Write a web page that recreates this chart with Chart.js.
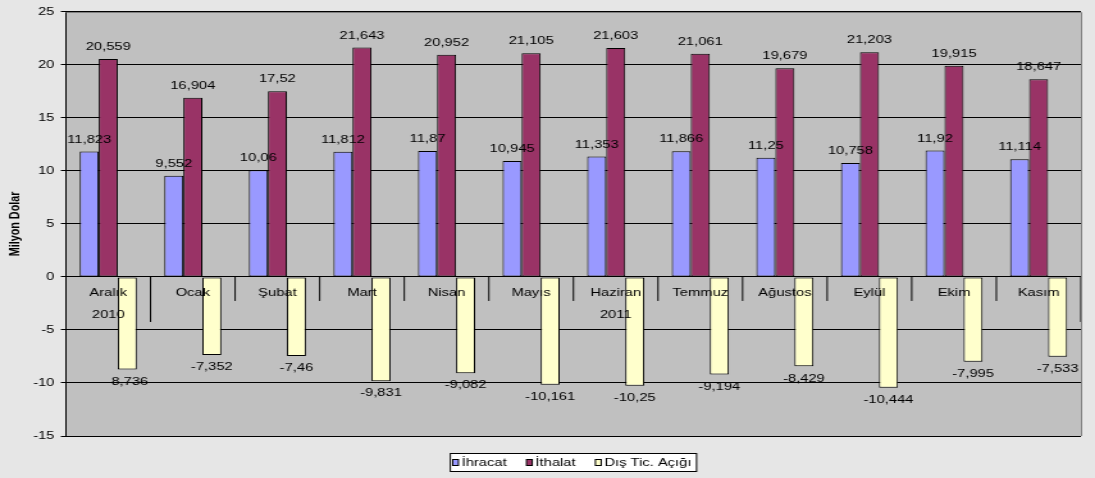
<!DOCTYPE html>
<html>
<head>
<meta charset="utf-8">
<title>Dış Ticaret</title>
<style>
  html, body { margin: 0; padding: 0; background: #e6e6e6; overflow: hidden; }
  /* the chart is laid out narrow and widened horizontally, giving the wide-type look */
  #wrap { width: 855px; height: 478px; transform: scaleX(1.2807); transform-origin: 0 0; }
  canvas { display: block; }
</style>
<script src="https://cdn.jsdelivr.net/npm/chart.js@4/dist/chart.umd.min.js"></script>
</head>
<body>
<div id="wrap"><canvas id="c" width="855" height="478"></canvas></div>
<script>
// Aylar ve yıl grupları
const months = ['Aralık', 'Ocak', 'Şubat', 'Mart', 'Nisan', 'Mayıs', 'Haziran', 'Temmuz', 'Ağustos', 'Eylül', 'Ekim', 'Kasım'];
const years = ['2010', '2011'];
const yearSpans = [1, 11];

// Seriler (milyar değil, grafikteki birimle: Milyon Dolar)
const ihracat = [11.823, 9.552, 10.06, 11.812, 11.87, 10.945, 11.353, 11.866, 11.25, 10.758, 11.92, 11.114];
const ithalat = [20.559, 16.904, 17.52, 21.643, 20.952, 21.105, 21.603, 21.061, 19.679, 21.203, 19.915, 18.647];
const disTicAcigi = [-8.736, -7.352, -7.46, -9.831, -9.082, -10.161, -10.25, -9.194, -8.429, -10.444, -7.995, -7.533];

const seriesNames = ['İhracat', 'İthalat', 'Dış Tic. Açığı'];
const yTicks = [-15, -10, -5, 0, 5, 10, 15, 20, 25];

const FONT = '"Liberation Sans", Arial, sans-serif';
const FS = 11.5;
Chart.defaults.font.family = FONT;
Chart.defaults.font.size = FS;
Chart.defaults.color = '#000';

const fmt = v => String(v).replace('.', ',');

const backdrop = {
  id: 'backdrop',
  beforeDraw(chart) {
    const {ctx, chartArea: a} = chart;
    ctx.save();
    ctx.fillStyle = '#e6e6e6';
    ctx.fillRect(0, 0, chart.width, chart.height);
    ctx.fillStyle = '#c0c0c0';
    ctx.fillRect(a.left, a.top, a.right - a.left, a.bottom - a.top);
    ctx.restore();
  }
};

const annotations = {
  id: 'annotations',
  afterDatasetsDraw(chart) {
    const {ctx, chartArea: a} = chart;
    const xs = chart.scales.x, ys = chart.scales.y;
    const y0 = ys.getPixelForValue(0);
    const half = (xs.getPixelForValue(1) - xs.getPixelForValue(0)) / 2;
    ctx.save();
    ctx.fillStyle = '#000';
    ctx.textAlign = 'center';
    ctx.textBaseline = 'middle';
    ctx.font = `${FS}px ${FONT}`;

    // month separators below the zero line; group ends run longer
    const ends = [];
    let acc = 0;
    yearSpans.forEach(n => { acc += n; ends.push(acc - 1); });
    ctx.strokeStyle = '#000';
    ctx.lineWidth = 1;
    months.forEach((m, i) => {
      const bx = xs.getPixelForValue(i) + half;
      const len = ends.includes(i) ? 45 : 24;
      ctx.beginPath();
      ctx.moveTo(bx, y0);
      ctx.lineTo(bx, y0 + len);
      ctx.stroke();
    });

    // month names
    months.forEach((m, i) => {
      ctx.fillText(m, xs.getPixelForValue(i), y0 + 15.5);
    });

    // year names centred on their span
    let start = 0;
    years.forEach((yr, k) => {
      const last = start + yearSpans[k] - 1;
      const l = xs.getPixelForValue(start) - half;
      const r = xs.getPixelForValue(last) + half;
      ctx.fillText(yr, (l + r) / 2, y0 + 38);
      start = last + 1;
    });

    // value labels
    chart.data.datasets.forEach((ds, di) => {
      const meta = chart.getDatasetMeta(di);
      meta.data.forEach((bar, j) => {
        const v = ds.data[j];
        const ty = v >= 0 ? bar.y - 12 : bar.y + 12;
        ctx.fillText(fmt(v), bar.x, ty);
      });
    });
    ctx.restore();
  },
  afterDraw(chart) {
    const {ctx, chartArea: a} = chart;
    ctx.save();
    // plot frame (top and right)
    ctx.strokeStyle = '#808080';
    ctx.lineWidth = 1;
    ctx.beginPath();
    ctx.moveTo(a.left, Math.round(a.top) + 0.5);
    ctx.lineTo(a.right + 0.5, Math.round(a.top) + 0.5);
    ctx.lineTo(a.right + 0.5, a.bottom);
    ctx.stroke();

    // legend
    ctx.font = `${FS}px ${FONT}`;
    ctx.textBaseline = 'middle';
    ctx.textAlign = 'left';
    const boxW = 4.5, boxH = 6, gap = 2.5, spacing = 15.5, padL = 1.8, padR = 4;
    const widths = chart.data.datasets.map(ds => ctx.measureText(ds.label).width);
    let content = 0;
    widths.forEach((w, i) => { content += boxW + gap + w + (i < widths.length - 1 ? spacing : 0); });
    const frameW = padL + content + padR;
    const cx = (a.left + a.right) / 2;
    const fx = cx - frameW / 2;
    const fy = 453.5, fh = 18;
    const my = fy + fh / 2;
    ctx.fillStyle = '#fff';
    ctx.fillRect(fx, fy, frameW, fh);
    ctx.strokeStyle = '#000';
    ctx.strokeRect(fx, fy, frameW, fh);
    let x = fx + padL;
    chart.data.datasets.forEach((ds, i) => {
      ctx.fillStyle = ds.backgroundColor;
      ctx.fillRect(x, my - boxH / 2, boxW, boxH);
      ctx.strokeStyle = '#000';
      ctx.strokeRect(x, my - boxH / 2, boxW, boxH);
      x += boxW + gap;
      ctx.fillStyle = '#000';
      ctx.fillText(ds.label, x, my + 0.5);
      x += widths[i] + spacing;
    });
    ctx.restore();
  }
};

const barStyle = {
  borderColor: '#000',
  borderWidth: 1,
  borderSkipped: false,
  categoryPercentage: 0.675,
  barPercentage: 1.0
};

new Chart(document.getElementById('c'), {
  type: 'bar',
  data: {
    labels: months,
    datasets: [
      Object.assign({label: seriesNames[0], data: ihracat, backgroundColor: '#9999ff'}, barStyle),
      Object.assign({label: seriesNames[1], data: ithalat, backgroundColor: '#993366'}, barStyle),
      Object.assign({label: seriesNames[2], data: disTicAcigi, backgroundColor: '#ffffcc'}, barStyle)
    ]
  },
  options: {
    responsive: false,
    animation: false,
    devicePixelRatio: 1,
    layout: { padding: { top: 9, right: 11, bottom: 42, left: 0 } },
    plugins: {
      legend: { display: false },
      tooltip: { enabled: false }
    },
    scales: {
      x: {
        type: 'category',
        display: false,
        offset: true,
        grid: { display: false }
      },
      y: {
        min: -15,
        max: 25,
        afterBuildTicks: s => { s.ticks = yTicks.map(v => ({ value: v })); },
        afterFit: s => { s.width = 51.5; },
        ticks: { padding: 5, color: '#000', font: { size: FS } },
        grid: { color: '#000', lineWidth: 1, tickLength: 4, drawTicks: true },
        border: { display: true, color: '#000', width: 1 },
        title: {
          display: true,
          text: 'Milyon Dolar',
          color: '#000',
          font: { size: 10.8, weight: 'bold' },
          padding: { top: 5.2, bottom: 0 }
        }
      }
    }
  },
  plugins: [backdrop, annotations]
});
</script>
</body>
</html>
